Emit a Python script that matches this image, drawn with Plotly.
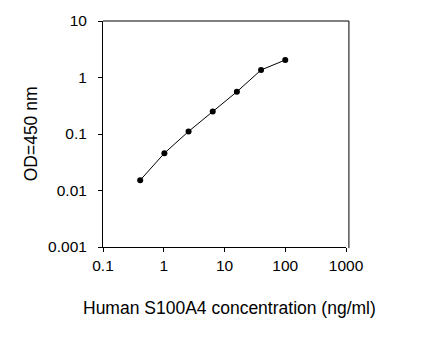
import plotly.graph_objects as go

concentration = [0.4096, 1.024, 2.56, 6.4, 16, 40, 100]
od450 = [0.0152, 0.0457, 0.111, 0.249, 0.56, 1.36, 2.04]

x_ticks = [0.1, 1, 10, 100, 1000]
x_tick_labels = ["0.1", "1", "10", "100", "1000"]
y_ticks = [0.001, 0.01, 0.1, 1, 10]
y_tick_labels = ["0.001", "0.01", "0.1", "1", "10"]

font_family = "Liberation Sans, Arial, sans-serif"

fig = go.Figure()
fig.add_trace(go.Scatter(
    x=concentration, y=od450, mode="lines+markers",
    line=dict(color="black", width=1),
    marker=dict(color="black", size=6),
    showlegend=False,
))

fig.update_layout(
    width=444, height=343,
    margin=dict(l=103, r=98, t=19, b=96),
    paper_bgcolor="white", plot_bgcolor="white",
    font=dict(family=font_family, color="black", size=15),
    xaxis=dict(
        type="log", range=[-1, 3],
        tickvals=x_ticks, ticktext=x_tick_labels,
        showgrid=False, zeroline=False,
        showline=True, linecolor="black", linewidth=1,
        ticks="outside", ticklen=4, tickcolor="black",
        tickfont=dict(size=15.5),
    ),
    yaxis=dict(
        type="log", range=[-3, 1],
        tickvals=y_ticks, ticktext=y_tick_labels,
        showgrid=False, zeroline=False,
        showline=True, linecolor="black", linewidth=1,
        ticks="outside", ticklen=4, tickcolor="black",
        tickfont=dict(size=15.5),
        ticklabelstandoff=8,
    ),
    shapes=[
        dict(type="line", xref="paper", yref="paper", x0=0, x1=1.012, y0=1, y1=1,
             line=dict(color="black", width=1)),
        dict(type="line", xref="paper", yref="paper", x0=1.012, x1=1.012, y0=1, y1=-0.005,
             line=dict(color="black", width=1)),
    ],
    annotations=[
        dict(text="OD=450 nm", xref="paper", yref="paper", x=-0.295, y=0.5,
             textangle=-90, showarrow=False, font=dict(size=17.5),
             xanchor="center", yanchor="middle"),
        dict(text="Human S100A4 concentration (ng/ml)", xref="paper", yref="paper",
             x=0.522, y=-0.268, showarrow=False, font=dict(size=17.5),
             xanchor="center", yanchor="middle"),
    ],
)

fig.write_html("out.html")
